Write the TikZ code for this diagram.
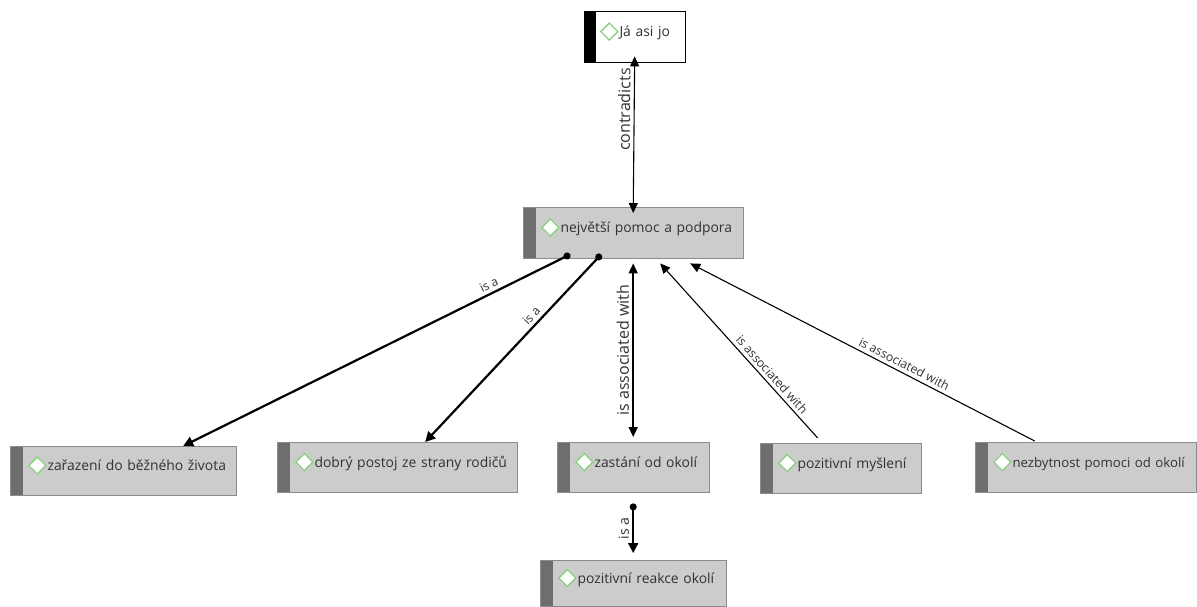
\documentclass[tikz,border=0pt]{standalone}
\usepackage{fontspec}
\setmainfont{Open Sans}
\usetikzlibrary{arrows.meta}

\definecolor{boxfill}{RGB}{204,204,204}
\definecolor{boxedge}{RGB}{140,140,140}
\definecolor{barfill}{RGB}{110,110,110}
\definecolor{txtgray}{RGB}{50,50,50}
\definecolor{dmdgreen}{RGB}{140,208,130}

% small diamond in front of every concept
\newcommand{\dmd}{\raisebox{-4pt}{\tikz\draw[dmdgreen, fill=white, line width=1.3pt] (0pt,0pt) -- (8.5pt,8.5pt) -- (17pt,0pt) -- (8.5pt,-8.5pt) -- cycle;}\hspace{1pt}}
\newcommand{\cpt}[1]{\hspace*{18pt}\mbox{\dmd #1}}

\tikzset{
  concept/.style={draw=boxedge, fill=boxfill, anchor=north west, inner xsep=0pt, inner ysep=0pt,
    text width=#1, minimum height=50pt, text height=12pt, text depth=12pt, align=left, text=txtgray,
    font=\fontsize{13.9}{16}\selectfont,
    path picture={\fill[barfill] (path picture bounding box.north west) rectangle ([xshift=13pt]path picture bounding box.south west);}},
  topbox/.style={concept=#1, fill=white, draw=black,
    path picture={\fill[black] (path picture bounding box.north west) rectangle ([xshift=12pt]path picture bounding box.south west);}},
  isa/.style={line width=2.2pt, {Circle[length=7pt]}-{Triangle[length=10pt,width=10pt]}},
  assoc/.style={line width=1.1pt, -{Triangle[length=10pt,width=9pt]}},
  lbl/.style={font=\fontsize{12.2}{14}\selectfont, text=txtgray, sloped, above},
  vlbl/.style={font=\fontsize{16}{18}\selectfont, text=txtgray, sloped, above},
}

\begin{document}
\begin{tikzpicture}[x=1pt, y=-1pt]
  \useasboundingbox (0,0) rectangle (1197,606);

  % Concepts
  \node[topbox=101pt, minimum height=51pt] (ja) at (584,11) {\hspace*{-2pt}\cpt{Já asi jo}};
  \node[concept=220pt, minimum height=51pt] (pomoc) at (523,207) {\cpt{největší pomoc a podpora}};
  \node[concept=226pt, minimum height=49pt] (zarazeni) at (10,446) {\cpt{zařazení do běžného života}};
  \node[concept=240pt] (postoj) at (277,442) {\cpt{dobrý postoj ze strany rodičů}};
  \node[concept=152pt] (zastani) at (557,442) {\cpt{zastání od okolí}};
  \node[concept=161pt] (mysleni) at (760,443) {\cpt{pozitivní myšlení}};
  \node[concept=221pt, font=\fontsize{13.2}{16}\selectfont] (nezbytnost) at (975,442) {\cpt{nezbytnost pomoci od okolí}};
  \node[concept=186pt, minimum height=46pt] (reakce) at (540,560) {\cpt{pozitivní reakce okolí}};

  % Relations
  \draw[line width=1.1pt, {Triangle[length=10pt,width=9pt]}-{Triangle[length=10pt,width=9pt]}]
    ([yshift=-6pt]pomoc.north) -- node[vlbl, pos=.66] {contradicts} ([yshift=6pt]ja.south);
  \draw[isa] ([xshift=-63pt, yshift=4pt]pomoc.south) -- node[lbl, pos=.2] {is a} ([xshift=60pt]zarazeni.north);
  \draw[isa] ([xshift=-32pt, yshift=4pt]pomoc.south) -- node[lbl, pos=.36] {is a} ([xshift=28pt]postoj.north);
  \draw[line width=1.5pt, {Triangle[length=10pt,width=9pt]}-{Triangle[length=10pt,width=9pt]}]
    ([yshift=5pt]zastani.north) -- node[vlbl] {is associated with} ([yshift=-5pt]pomoc.south);
  \draw[assoc] ([xshift=-23pt, yshift=5pt]mysleni.north) -- node[lbl, pos=.33] {is associated with} ([xshift=27pt, yshift=-5pt]pomoc.south);
  \draw[assoc] ([xshift=-51pt, yshift=1pt]nezbytnost.north) -- node[lbl, pos=.39] {is associated with} ([xshift=57pt, yshift=-5pt]pomoc.south);
  \draw[line width=1.8pt, {Triangle[length=10pt,width=10pt]}-{Circle[length=7pt]}]
    ([yshift=7pt]reakce.north) -- node[vlbl, font=\fontsize{14}{16}\selectfont] {is a} ([yshift=-11pt]zastani.south);
\end{tikzpicture}
\end{document}
